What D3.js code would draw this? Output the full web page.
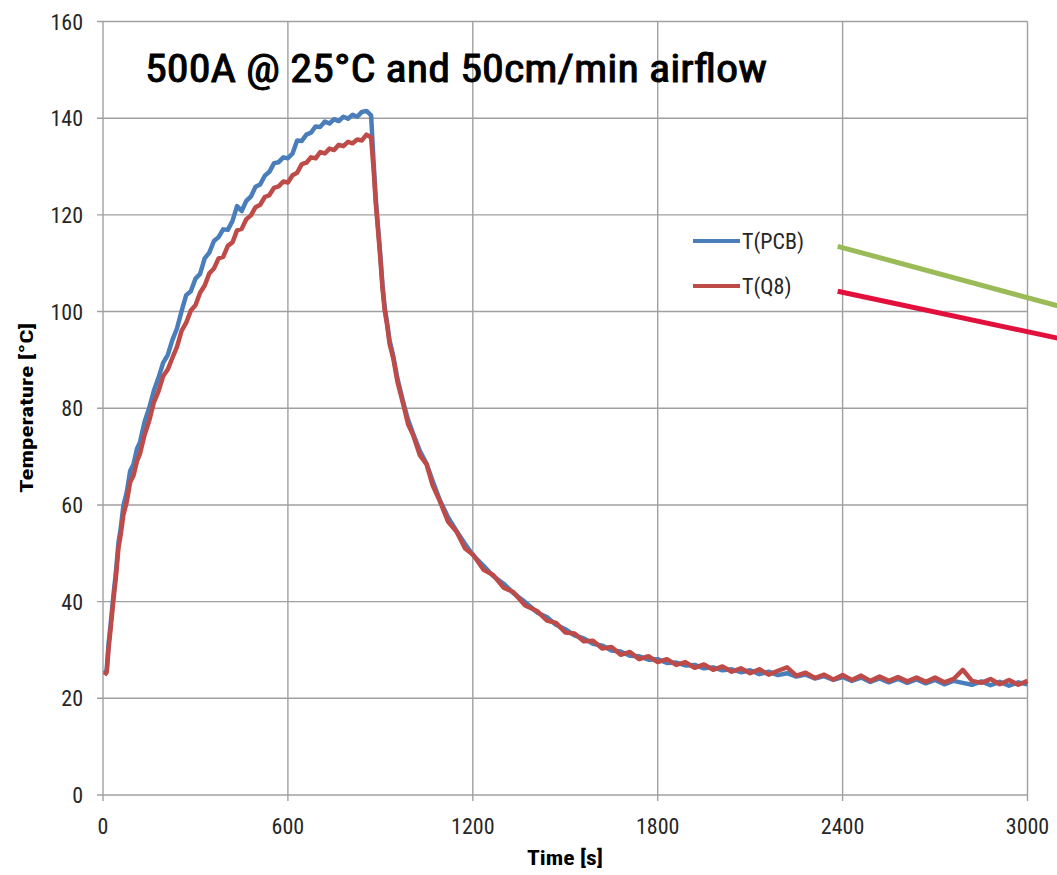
<!DOCTYPE html>
<html>
<head>
<meta charset="utf-8">
<script src="https://cdn.jsdelivr.net/npm/d3@7"></script>
<style>
  body { margin: 0; background: #fff; }
  svg { display: block; }
  text { font-family: "Liberation Sans Narrow", "Roboto Condensed", "Liberation Sans", sans-serif; }
</style>
</head>
<body>
<svg id="chart" width="1057" height="875"></svg>
<script>
// Sample times [s], heating phase then cool-down.
var times = [
    5, 12, 18, 25, 34, 42, 50, 58, 66, 77, 88, 99, 110,
    120, 135, 150, 165, 180, 195, 210, 225, 240, 255, 270, 285, 300, 315, 330, 345,
    360, 375, 390, 405, 420, 435, 450, 465, 480, 495, 510, 525, 540, 555, 570, 585,
    600, 615, 630, 645, 660, 675, 690, 705, 720, 735, 750, 765, 780, 795, 810, 825,
    840, 855, 870,
    878, 885, 892, 899, 907, 914, 922, 930, 942, 955, 974, 990, 1006, 1028, 1050,
    1070, 1093, 1120, 1147, 1175, 1201, 1235, 1266, 1300, 1331, 1370, 1410,
    1440, 1470, 1500, 1530, 1560, 1590, 1620, 1650, 1680, 1710, 1740, 1770, 1800,
    1830, 1860, 1890, 1920, 1950, 1980, 2010, 2040, 2070, 2100, 2130, 2160, 2190,
    2220, 2250, 2280, 2310, 2340, 2370, 2400, 2430, 2460, 2490, 2520, 2550, 2580,
    2610, 2640, 2670, 2700, 2730, 2760, 2790, 2820, 2850, 2880, 2910, 2940, 2970, 3000
];

var tPCB = [
    25.2, 25.8, 31.3, 35.5, 41.4, 46.2, 52.1, 55.4, 59.8, 62.6, 67.0, 68.4, 71.6,
    73.0, 77.2, 80.1, 83.6, 86.3, 89.4, 91.0, 94.1, 96.5, 100.1, 103.4, 104.2, 106.8, 107.8, 111.0, 112.2,
    114.6, 115.4, 117.0, 116.9, 118.7, 121.8, 120.8, 122.9, 123.8, 125.8, 126.3, 128.1, 128.9, 130.7, 130.9, 131.9,
    131.7, 132.7, 135.4, 135.3, 136.6, 137.0, 138.3, 138.2, 139.3, 138.9, 139.8, 139.4, 140.3, 139.9, 140.7, 140.3,
    141.3, 141.5, 140.6,
    131.0, 123.5, 117.8, 112.4, 105.5, 100.9, 97.6, 94.0, 90.8, 86.3, 81.3, 77.6, 74.8, 71.2, 68.5,
    64.9, 61.0, 57.4, 54.6, 51.9, 49.6, 47.4, 45.3, 43.7, 41.8, 39.9, 37.7,
    36.8, 35.2, 34.3, 33.0, 32.4, 31.3, 30.9, 29.9, 29.7, 28.8, 28.7, 28.0, 28.1,
    27.3, 27.4, 26.8, 26.9, 26.2, 26.4, 25.8, 26.0, 25.4, 25.8, 25.0, 25.5, 24.8,
    25.2, 24.5, 24.9, 24.1, 24.6, 23.8, 24.4, 23.6, 24.3, 23.4, 24.1, 23.3, 24.0,
    23.2, 23.9, 23.1, 23.8, 22.9, 23.6, 23.2, 22.8, 23.5, 22.7, 23.4, 22.6, 23.3, 22.9
];

var tQ8 = [
    24.8, 25.4, 30.2, 34.6, 40.5, 45.1, 51.0, 54.1, 57.9, 60.6, 64.7, 66.1, 69.0,
    70.6, 74.5, 77.4, 81.2, 83.5, 86.6, 88.0, 90.4, 92.7, 96.0, 97.7, 100.2, 101.3, 103.9, 105.4, 107.9,
    108.9, 111.0, 111.3, 113.6, 114.3, 116.8, 117.1, 119.1, 119.9, 121.6, 122.1, 123.7, 124.1, 125.6, 125.9, 126.9,
    126.7, 128.2, 128.7, 130.5, 130.8, 131.9, 131.7, 133.0, 132.7, 133.7, 133.4, 134.5, 134.2, 135.1, 134.8, 135.6,
    135.4, 136.6, 136.0,
    129.5, 122.5, 117.2, 111.8, 104.8, 100.3, 97.2, 93.3, 90.3, 85.6, 80.9, 76.7, 74.5, 70.3, 68.4,
    64.0, 60.8, 56.5, 54.5, 51.0, 49.7, 46.6, 45.5, 42.9, 42.0, 39.2, 38.0,
    36.1, 35.6, 33.6, 33.4, 31.8, 31.9, 30.3, 30.6, 29.0, 29.6, 28.1, 28.7, 27.5,
    28.1, 26.9, 27.5, 26.3, 27.0, 25.9, 26.6, 25.5, 26.2, 25.2, 26.0, 24.9, 25.7,
    26.4, 24.7, 25.3, 24.2, 24.9, 23.9, 24.8, 23.8, 24.7, 23.6, 24.5, 23.6, 24.4,
    23.5, 24.3, 23.4, 24.3, 23.3, 24.0, 25.9, 23.6, 23.2, 24.0, 22.9, 23.8, 22.8, 23.6
];

var xTicks = [0, 600, 1200, 1800, 2400, 3000];
var yTicks = [0, 20, 40, 60, 80, 100, 120, 140, 160];

var seriesNames = ["T(PCB)", "T(Q8)"];
var seriesColors = ["#4a7ebb", "#be4b48"];

// Annotation pointers in data units [t0, v0, t1, v1].
var pointerLines = [[2384, 113.5, 3120, 100.8], [2384, 104.2, 3120, 94.2]];
var pointerColors = ["#9bbb59", "#e2103c"];

var svg = d3.select("#chart");
var x = d3.scaleLinear().domain([0, 3000]).range([103, 1027.5]);
var y = d3.scaleLinear().domain([0, 160]).range([795, 21.5]);

var gridColor = "#a0a0a0";

// Gridlines.
svg.append("g").selectAll("line.h").data(yTicks).join("line")
    .attr("x1", 97).attr("x2", x(3000))
    .attr("y1", d => y(d)).attr("y2", d => y(d))
    .attr("stroke", gridColor).attr("stroke-width", 1.4);
svg.append("g").selectAll("line.v").data(xTicks).join("line")
    .attr("x1", d => x(d)).attr("x2", d => x(d))
    .attr("y1", y(160)).attr("y2", 801)
    .attr("stroke", gridColor).attr("stroke-width", 1.4);

// Tick labels.
svg.append("g").selectAll("text").data(yTicks).join("text")
    .attr("x", 83).attr("y", d => y(d) + 8)
    .attr("text-anchor", "end")
    .attr("font-size", 22).attr("fill", "#262626")
    .text(d => d);
svg.append("g").selectAll("text").data(xTicks).join("text")
    .attr("x", d => x(d)).attr("y", 834)
    .attr("text-anchor", "middle")
    .attr("font-size", 22).attr("fill", "#262626")
    .text(d => d);

// Axis titles.
svg.append("text")
    .attr("transform", "translate(33,408) rotate(-90)")
    .attr("text-anchor", "middle")
    .attr("font-size", 18).attr("font-weight", "bold")
    .attr("textLength", 170).attr("lengthAdjust", "spacingAndGlyphs")
    .text("Temperature [°C]");
svg.append("text")
    .attr("x", 565).attr("y", 865)
    .attr("text-anchor", "middle")
    .attr("font-size", 20).attr("font-weight", "bold")
    .attr("textLength", 76).attr("lengthAdjust", "spacingAndGlyphs")
    .text("Time [s]");

// Title, slightly thickened regular weight.
svg.append("text")
    .attr("x", 145).attr("y", 82)
    .attr("font-size", 38)
    .attr("font-family", "'Open Sans', 'Liberation Sans', sans-serif")
    .attr("font-weight", 400)
    .attr("fill", "#000").attr("stroke", "#000").attr("stroke-width", 0.9)
    .attr("textLength", 622).attr("lengthAdjust", "spacingAndGlyphs")
    .text("500A @ 25°C and 50cm/min airflow");

// Series.
var line = d3.line()
    .x((d, i) => x(times[i]))
    .y(d => y(d));

[tPCB, tQ8].forEach(function (vals, k) {
    svg.append("path")
        .datum(vals)
        .attr("d", line)
        .attr("fill", "none")
        .attr("stroke", seriesColors[k])
        .attr("stroke-width", 4.5)
        .attr("stroke-linejoin", "round");
});

// Legend.
var legend = svg.append("g");
seriesNames.forEach(function (name, k) {
    var ly = 241 + k * 45;
    legend.append("line")
        .attr("x1", 693).attr("x2", 740)
        .attr("y1", ly).attr("y2", ly)
        .attr("stroke", seriesColors[k]).attr("stroke-width", 4);
    legend.append("text")
        .attr("x", 742).attr("y", ly + 8)
        .attr("font-size", 22).attr("fill", "#262626")
        .text(name);
});

// Pointer lines towards the right.
svg.append("g").selectAll("line").data(pointerLines).join("line")
    .attr("x1", d => x(d[0])).attr("y1", d => y(d[1]))
    .attr("x2", d => x(d[2])).attr("y2", d => y(d[3]))
    .attr("stroke", (d, i) => pointerColors[i])
    .attr("stroke-width", 5);
</script>
</body>
</html>
